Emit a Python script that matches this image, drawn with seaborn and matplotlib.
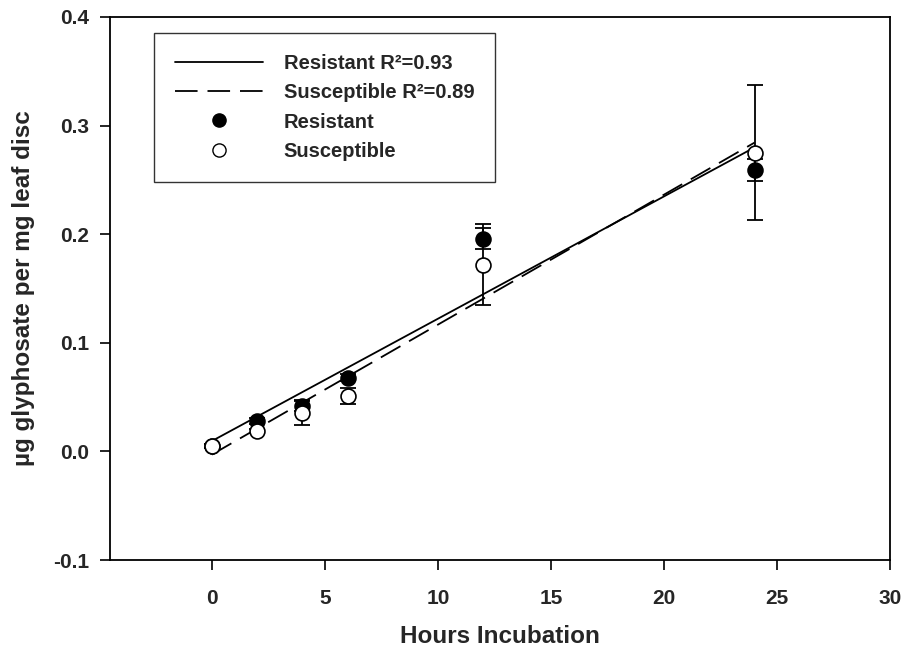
import numpy as np
import pandas as pd
import matplotlib
matplotlib.use("Agg")
import matplotlib.pyplot as plt
import seaborn as sns
from matplotlib.lines import Line2D

hours = [0, 2, 4, 6, 12, 24]
resistant = [0.005, 0.028, 0.042, 0.068, 0.196, 0.259]
resistant_err = [0.002, 0.003, 0.005, 0.003, 0.010, 0.010]
susceptible = [0.005, 0.019, 0.035, 0.051, 0.172, 0.275]
susceptible_err = [0.002, 0.002, 0.011, 0.007, 0.037, 0.062]
labels_fit = ["Resistant R\u00b2=0.93", "Susceptible R\u00b2=0.89"]
labels_pts = ["Resistant", "Susceptible"]
x_ticks = [0, 5, 10, 15, 20, 25, 30]
y_ticks = [-0.1, 0.0, 0.1, 0.2, 0.3, 0.4]

sns.set_theme(style="ticks")
plt.rcParams['font.family'] = ['Liberation Sans', 'DejaVu Sans']
plt.rcParams['font.weight'] = 'bold'

df = pd.DataFrame({"hours": hours, "res": resistant, "res_err": resistant_err,
                   "sus": susceptible, "sus_err": susceptible_err})

fig = plt.figure(figsize=(9.02, 6.52), dpi=100)
ax = fig.add_axes([0.122, 0.141, 0.865, 0.833])

dash = (0, (12.5, 5.5))
sns.regplot(data=df, x="hours", y="res", ax=ax, scatter=False, ci=None,
            color="black", line_kws=dict(lw=1.3, ls="-"))
sns.regplot(data=df, x="hours", y="sus", ax=ax, scatter=False, ci=None,
            color="black", line_kws=dict(lw=1.3, ls=dash))

ax.errorbar(df["hours"], df["res"], yerr=df["res_err"], fmt="none",
            ecolor="black", elinewidth=1.3, capsize=5.5, capthick=1.3, zorder=3)
ax.errorbar(df["hours"], df["sus"], yerr=df["sus_err"], fmt="none",
            ecolor="black", elinewidth=1.3, capsize=5.5, capthick=1.3, zorder=3)

sns.scatterplot(data=df, x="hours", y="res", ax=ax, s=115, color="black",
                edgecolor="black", linewidth=1.2, zorder=4)
sns.scatterplot(data=df, x="hours", y="sus", ax=ax, s=115, color="white",
                edgecolor="black", linewidth=1.2, zorder=5)

ax.set_xlim(-4.5, 30)
ax.set_ylim(-0.1, 0.4)
ax.set_xticks(x_ticks)
ax.set_yticks(y_ticks)
ax.set_xticklabels([str(t) for t in x_ticks], fontsize=15, fontweight="bold")
ax.set_yticklabels([f"{t:.1f}" for t in y_ticks], fontsize=15, fontweight="bold")
ax.tick_params(axis="x", length=7, width=1.2, pad=14, color="black")
ax.tick_params(axis="y", length=7, width=1.2, pad=8, color="black")
for sp in ax.spines.values():
    sp.set_linewidth(1.3)
    sp.set_color("black")

ax.set_xlabel("Hours Incubation", fontsize=17.5, fontweight="bold", labelpad=12)
ax.set_ylabel("\u00b5g glyphosate per mg leaf disc", fontsize=17.5, fontweight="bold", labelpad=13)

handles = [
    Line2D([], [], color="black", lw=1.3, ls="-"),
    Line2D([], [], color="black", lw=1.3, ls=dash),
    Line2D([], [], color="black", marker="o", ls="none", markersize=9.5, markerfacecolor="black"),
    Line2D([], [], color="black", marker="o", ls="none", markersize=9.5, markerfacecolor="white"),
]
leg = ax.legend(handles, labels_fit + labels_pts, loc="upper left",
                bbox_to_anchor=(0.056, 0.970), borderaxespad=0, frameon=True,
                fancybox=False, prop=dict(size=14.5, weight="bold"),
                handlelength=4.4, handletextpad=1.0, labelspacing=0.5,
                borderpad=1.05)
leg.get_frame().set_edgecolor("black")
leg.get_frame().set_linewidth(1.0)

fig.savefig("out.png", dpi=100)
